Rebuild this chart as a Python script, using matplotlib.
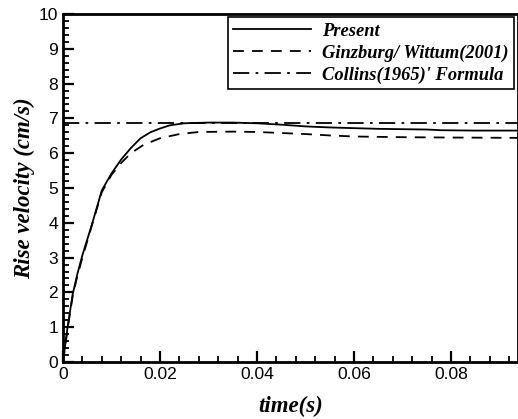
import matplotlib
matplotlib.use("Agg")
import matplotlib.pyplot as plt
from matplotlib.ticker import MultipleLocator, FuncFormatter
from matplotlib.lines import Line2D

# Data
t_present = [0, 0.0005, 0.001, 0.002, 0.003, 0.004, 0.006, 0.008, 0.010, 0.012, 0.014,
             0.016, 0.018, 0.020, 0.022, 0.025, 0.030, 0.035, 0.040, 0.045, 0.050,
             0.055, 0.060, 0.065, 0.070, 0.075, 0.078, 0.085, 0.094]
v_present = [0, 0.55, 1.05, 1.95, 2.55, 3.07, 3.97, 4.93, 5.42, 5.82, 6.15,
             6.43, 6.6, 6.71, 6.8, 6.86, 6.88, 6.88, 6.86, 6.82, 6.77,
             6.74, 6.72, 6.70, 6.69, 6.68, 6.66, 6.65, 6.65]

t_ginz = [0, 0.0005, 0.001, 0.002, 0.003, 0.004, 0.006, 0.008, 0.010, 0.012, 0.014,
          0.0166, 0.020, 0.024, 0.028, 0.035, 0.040, 0.045, 0.050, 0.055, 0.060,
          0.070, 0.080, 0.094]
v_ginz = [0, 0.5, 1.0, 1.9, 2.5, 3.0, 3.95, 4.88, 5.38, 5.72, 6.0,
          6.24, 6.43, 6.55, 6.61, 6.62, 6.61, 6.58, 6.55, 6.51, 6.48,
          6.46, 6.45, 6.44]

collins_v = 6.87

x_max = 0.0937
y_max = 10

labels = ["Present", "Ginzburg/ Wittum(2001)", "Collins(1965)' Formula"]

fig = plt.figure(figsize=(5.18, 4.19), dpi=100)
ax = fig.add_axes([63/518, 1-362/419, (517.5-63)/518, (362-14)/419])

lw = 1.3
ax.plot(t_present, v_present, color="black", lw=lw, ls="-")
ax.plot(t_ginz, v_ginz, color="black", lw=lw, ls=(0, (6, 4.5)))
ax.axhline(collins_v, color="black", lw=lw, ls=(0, (9, 3.5, 1.5, 3.5)))

ax.set_xlim(0, x_max)
ax.set_ylim(0, y_max)

ax.xaxis.set_major_locator(MultipleLocator(0.02))
ax.xaxis.set_minor_locator(MultipleLocator(0.004))
ax.yaxis.set_major_locator(MultipleLocator(1))
ax.yaxis.set_minor_locator(MultipleLocator(0.2))
ax.xaxis.set_major_formatter(FuncFormatter(lambda v, p: "%g" % round(v, 4)))
ax.yaxis.set_major_formatter(FuncFormatter(lambda v, p: "%g" % v))

ax.tick_params(which="both", direction="in", top=False, right=False,
               labelsize=12.6, width=1.3)
ax.tick_params(which="major", length=8, width=1.6)
ax.tick_params(which="minor", length=4)
for lab in ax.get_xticklabels() + ax.get_yticklabels():
    lab.set_fontfamily("Liberation Sans")

for s in ax.spines.values():
    s.set_linewidth(2)

label_font = dict(family="Liberation Serif", weight="bold", style="italic", size=16.5)
ax.set_xlabel("time(s)", fontdict=label_font, labelpad=10)
ax.set_ylabel("Rise velocity (cm/s)", fontdict=label_font, labelpad=3)

handles = [Line2D([], [], color="black", lw=lw, ls="-"),
           Line2D([], [], color="black", lw=lw, ls=(0, (6, 4.5))),
           Line2D([], [], color="black", lw=lw, ls=(0, (9, 3.5, 1.5, 3.5)))]
leg = ax.legend(handles, labels, loc="upper right", bbox_to_anchor=(0.992, 0.991),
                prop=dict(family="Liberation Serif", weight="bold", style="italic", size=13.3),
                handlelength=4.2, handletextpad=0.6, labelspacing=0.25,
                borderpad=0.3, borderaxespad=0, fancybox=False, framealpha=1)
leg.get_frame().set_edgecolor("black")
leg.get_frame().set_linewidth(1.2)

fig.savefig("out.png", dpi=100)
